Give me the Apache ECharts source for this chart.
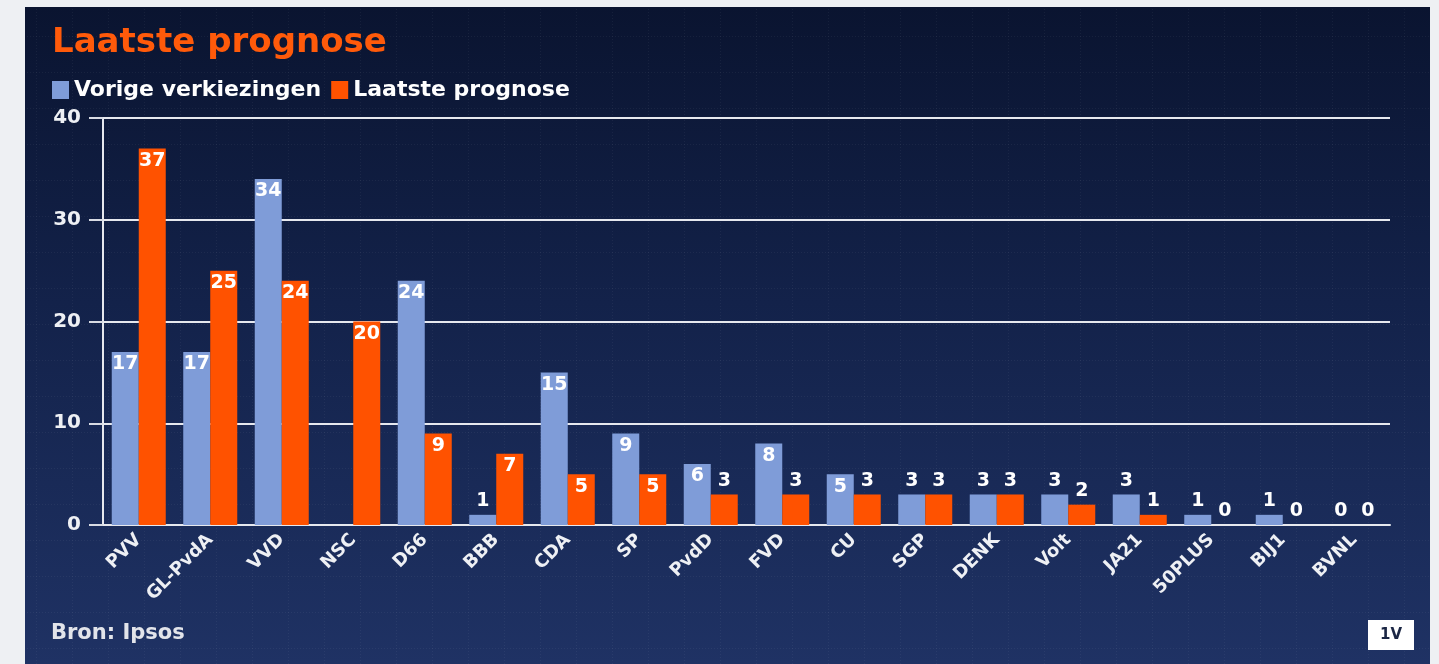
<!DOCTYPE html>
<html>
<head>
<meta charset="utf-8">
<script src="https://cdn.jsdelivr.net/npm/echarts@6/dist/echarts.min.js"></script>
<style>
html,body{margin:0;padding:0;background:#eef0f3;}
#c{width:1439px;height:664px;}
</style>
</head>
<body>
<div id="c"></div>
<script>
const categories = ['PVV','GL-PvdA','VVD','NSC','D66','BBB','CDA','SP','PvdD','FVD','CU','SGP','DENK','Volt','JA21','50PLUS','BIJ1','BVNL'];
const vorigeVerkiezingen = [17,17,34,null,24,1,15,9,6,8,5,3,3,3,3,1,1,0];
const laatstePrognose = [37,25,24,20,9,7,5,5,3,3,3,3,3,2,1,0,0,0];
const yTicks = [0,10,20,30,40];

const FONT = '"DejaVu Sans", sans-serif';

// subtle dotted grid pattern for the background
const pat = document.createElement('canvas');
pat.width = 36; pat.height = 36;
const pc = pat.getContext('2d');
pc.fillStyle = 'rgba(255,255,255,0.05)';
for (let i = 0; i < 36; i += 3) { pc.fillRect(i, 0, 1, 1); pc.fillRect(0, i, 1, 1); }

const chart = echarts.init(document.getElementById('c'), null, {renderer: 'canvas'});

function mkData(arr) {
  return arr.map(v => v === null ? null : ({
    value: v,
    label: { position: v >= 5 ? 'insideTop' : 'top', distance: v >= 5 ? 3 : 4 }
  }));
}

const labelStyle = {
  show: true,
  color: '#ffffff',
  fontFamily: FONT,
  fontWeight: 'bold',
  fontSize: 19
};

chart.setOption({
  backgroundColor: '#eef0f3',
  animation: false,
  graphic: [
    { type: 'rect', z: -10, silent: true, shape: {x: 25, y: 7, width: 1405, height: 657},
      style: { fill: new echarts.graphic.LinearGradient(0, 0, 0, 1, [
        {offset: 0, color: '#0a1430'},
        {offset: 0.45, color: '#13224a'},
        {offset: 1, color: '#1f3264'}
      ]) } },
    { type: 'rect', z: -9, silent: true, shape: {x: 25, y: 7, width: 1405, height: 657},
      style: { fill: {image: pat, repeat: 'repeat'} } },
    { type: 'text', left: 51, top: 623, silent: true,
      style: { text: 'Bron: Ipsos', fill: '#e2e4ea', font: 'bold 21px ' + FONT } },
    { type: 'group', left: 1368, top: 620, children: [
      { type: 'rect', shape: {x: 0, y: 0, width: 46, height: 30}, style: {fill: '#ffffff'} },
      { type: 'text', x: 23, y: 15, style: { text: '1V', fill: '#1b2644', font: 'bold 15px ' + FONT, align: 'center', verticalAlign: 'middle' } }
    ] }
  ],
  title: {
    text: 'Laatste prognose',
    left: 47, top: 21,
    textStyle: { color: '#ff5a0a', fontFamily: FONT, fontWeight: 'bold', fontSize: 34 }
  },
  legend: {
    left: 47, top: 74,
    itemWidth: 17, itemHeight: 18, itemGap: 10,
    icon: 'rect',
    textStyle: { color: '#ffffff', fontFamily: FONT, fontWeight: 'bold', fontSize: 22 },
    data: ['Vorige verkiezingen', 'Laatste prognose']
  },
  grid: { left: 103, right: 49, top: 118, bottom: 139 },
  xAxis: {
    type: 'category',
    data: categories,
    axisLine: { lineStyle: { color: '#e6e8ee', width: 2 } },
    axisTick: { alignWithLabel: true, length: 10, lineStyle: { color: '#d8dbe3', width: 2 } },
    axisLabel: { rotate: 45, margin: 12, color: '#eef0f4', fontFamily: FONT, fontWeight: 'bold', fontSize: 18 }
  },
  yAxis: {
    type: 'value',
    min: yTicks[0], max: yTicks[yTicks.length - 1], interval: 10,
    axisLine: { show: true, lineStyle: { color: '#e6e8ee', width: 2 } },
    axisTick: { show: true, length: 14, lineStyle: { color: '#d8dbe3', width: 2 } },
    splitLine: { lineStyle: { color: '#e6e8ee', width: 2 } },
    axisLabel: { margin: 22, color: '#eef0f4', fontFamily: FONT, fontWeight: 'bold', fontSize: 20 }
  },
  series: [
    { name: 'Vorige verkiezingen', type: 'bar', barWidth: 27, barGap: '0%',
      itemStyle: { color: '#7f9cd8' }, label: labelStyle, data: mkData(vorigeVerkiezingen) },
    { name: 'Laatste prognose', type: 'bar', barWidth: 27, barGap: '0%',
      itemStyle: { color: '#ff5200' }, label: labelStyle, data: mkData(laatstePrognose) }
  ]
});
</script>
</body>
</html>
